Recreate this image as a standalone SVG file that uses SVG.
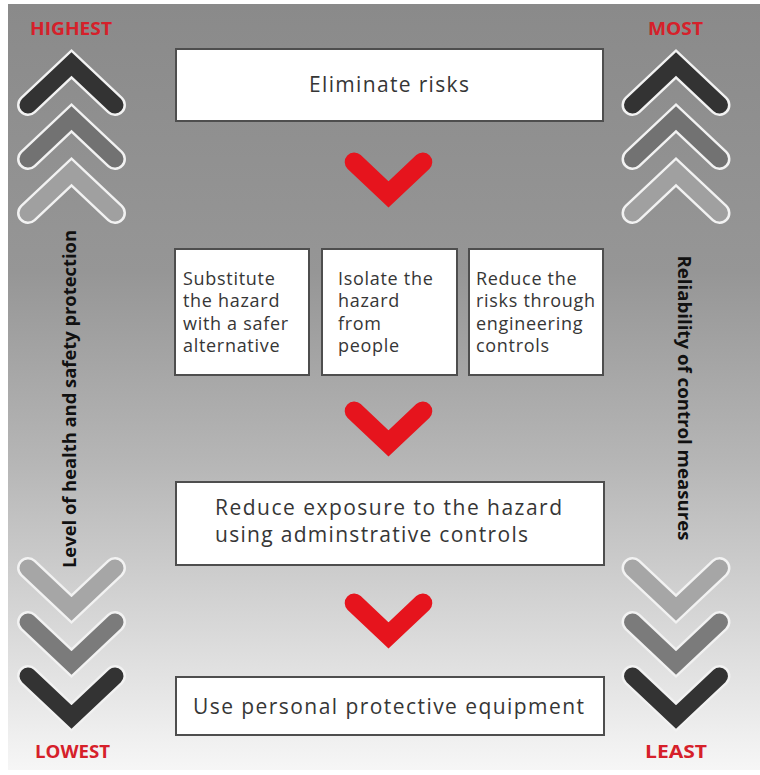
<svg xmlns="http://www.w3.org/2000/svg" width="760" height="775" viewBox="0 0 760 775">
<defs>
  <linearGradient id="bg" x1="0" y1="0" x2="0" y2="1">
    <stop offset="0" stop-color="#8a8a8a"/>
    <stop offset="0.35" stop-color="#969696"/>
    <stop offset="0.6" stop-color="#b6b6b6"/>
    <stop offset="0.8" stop-color="#d6d6d6"/>
    <stop offset="1" stop-color="#f6f6f6"/>
  </linearGradient>
  <path id="up" d="M-43.5,41 L0,0 L43.5,41"/>
  <path id="down" d="M-43.5,-41 L0,0 L43.5,-41"/>
  <path id="red" d="M-34.3,-32.5 L0,0 L34.3,-32.5"/>
</defs>
<style>
  .box { fill: #ffffff; stroke: #4e4e4e; stroke-width: 2; }
  .t { font-family: "Open Sans", "Liberation Sans", sans-serif; fill: #363636; }
  .big { font-size: 21px; }
  .small { font-size: 18px; letter-spacing: 0.7px; }
  .lbl { font-family: "Open Sans", "Liberation Sans", sans-serif; font-weight: 700; font-size: 17px; fill: #d6202a; text-anchor: middle; }
  .side { font-family: "Open Sans", "Liberation Sans", sans-serif; font-weight: 700; font-size: 17px; fill: #111111; text-anchor: middle; }
  .ol { fill: none; stroke: #f2f2f2; stroke-width: 22; stroke-linecap: round; stroke-linejoin: miter; }
  .in { fill: none; stroke-width: 17; stroke-linecap: round; stroke-linejoin: miter; }
  .dk { stroke: #333333; }
  .md { stroke: #727272; }
  .lt { stroke: #a0a0a0; }
  .ltd { stroke: #a6a6a6; }
  .mdd { stroke: #7b7b7b; }
  .rd { fill: none; stroke: #e6141d; stroke-width: 19; stroke-linecap: round; stroke-linejoin: miter; }
</style>
<rect x="0" y="0" width="760" height="775" fill="#ffffff"/>
<rect x="8" y="4" width="752" height="766" fill="url(#bg)"/>

<g id="left-scale">
  <text class="lbl" x="71" y="35" textLength="82" lengthAdjust="spacingAndGlyphs">HIGHEST</text>
  <g transform="translate(71.5,64)"><use href="#up" class="ol"/><use href="#up" class="in dk"/></g>
  <g transform="translate(71.5,118)"><use href="#up" class="ol"/><use href="#up" class="in md"/></g>
  <g transform="translate(71.5,172)"><use href="#up" class="ol"/><use href="#up" class="in lt"/></g>
  <text class="side" transform="translate(76,399) rotate(-90)" textLength="338" lengthAdjust="spacingAndGlyphs">Level of health and safety protection</text>
  <g transform="translate(71.5,609)"><use href="#down" class="ol"/><use href="#down" class="in ltd"/></g>
  <g transform="translate(71.5,663)"><use href="#down" class="ol"/><use href="#down" class="in mdd"/></g>
  <g transform="translate(71.5,717)"><use href="#down" class="ol"/><use href="#down" class="in dk"/></g>
  <text class="lbl" x="72.5" y="758" textLength="75" lengthAdjust="spacingAndGlyphs">LOWEST</text>
</g>

<g id="right-scale">
  <text class="lbl" x="675.5" y="35" textLength="55" lengthAdjust="spacingAndGlyphs">MOST</text>
  <g transform="translate(676,64)"><use href="#up" class="ol"/><use href="#up" class="in dk"/></g>
  <g transform="translate(676,118)"><use href="#up" class="ol"/><use href="#up" class="in md"/></g>
  <g transform="translate(676,172)"><use href="#up" class="ol"/><use href="#up" class="in lt"/></g>
  <text class="side" transform="translate(678,398) rotate(90)" textLength="285" lengthAdjust="spacingAndGlyphs">Reliability of control measures</text>
  <g transform="translate(676,609)"><use href="#down" class="ol"/><use href="#down" class="in ltd"/></g>
  <g transform="translate(676,663)"><use href="#down" class="ol"/><use href="#down" class="in mdd"/></g>
  <g transform="translate(676,717)"><use href="#down" class="ol"/><use href="#down" class="in dk"/></g>
  <text class="lbl" x="676" y="758" textLength="62" lengthAdjust="spacingAndGlyphs">LEAST</text>
</g>

<g id="eliminate">
  <rect class="box" x="176" y="49" width="427" height="72"/>
  <text class="t big" x="389" y="92" text-anchor="middle" textLength="160" lengthAdjust="spacing">Eliminate risks</text>
</g>

<g id="substitute">
  <rect class="box" x="175" y="249" width="134" height="126"/>
  <text class="t small" x="183" y="285">Substitute</text>
  <text class="t small" x="183" y="307">the hazard</text>
  <text class="t small" x="183" y="329.5">with a safer</text>
  <text class="t small" x="183" y="352">alternative</text>
</g>

<g id="isolate">
  <rect class="box" x="322" y="249" width="135" height="126"/>
  <text class="t small" x="338" y="285">Isolate the</text>
  <text class="t small" x="338" y="307">hazard</text>
  <text class="t small" x="338" y="329.5">from</text>
  <text class="t small" x="338" y="352">people</text>
</g>

<g id="engineering">
  <rect class="box" x="469" y="249" width="134" height="126"/>
  <text class="t small" x="476" y="285">Reduce the</text>
  <text class="t small" x="476" y="307">risks through</text>
  <text class="t small" x="476" y="329.5">engineering</text>
  <text class="t small" x="476" y="352">controls</text>
</g>

<g id="administrative">
  <rect class="box" x="176" y="482" width="428" height="83"/>
  <text class="t big" x="215" y="515" textLength="347" lengthAdjust="spacing">Reduce exposure to the hazard</text>
  <text class="t big" x="215" y="542" textLength="313" lengthAdjust="spacing">using adminstrative controls</text>
</g>

<g id="ppe">
  <rect class="box" x="176" y="677" width="428" height="58"/>
  <text class="t big" x="388.5" y="714" text-anchor="middle" textLength="391" lengthAdjust="spacing">Use personal protective equipment</text>
</g>

<g id="connectors">
  <use href="#red" class="rd" transform="translate(388.5,194.5)"/>
  <use href="#red" class="rd" transform="translate(388.5,443.5)"/>
  <use href="#red" class="rd" transform="translate(388.5,635.5)"/>
</g>
</svg>
